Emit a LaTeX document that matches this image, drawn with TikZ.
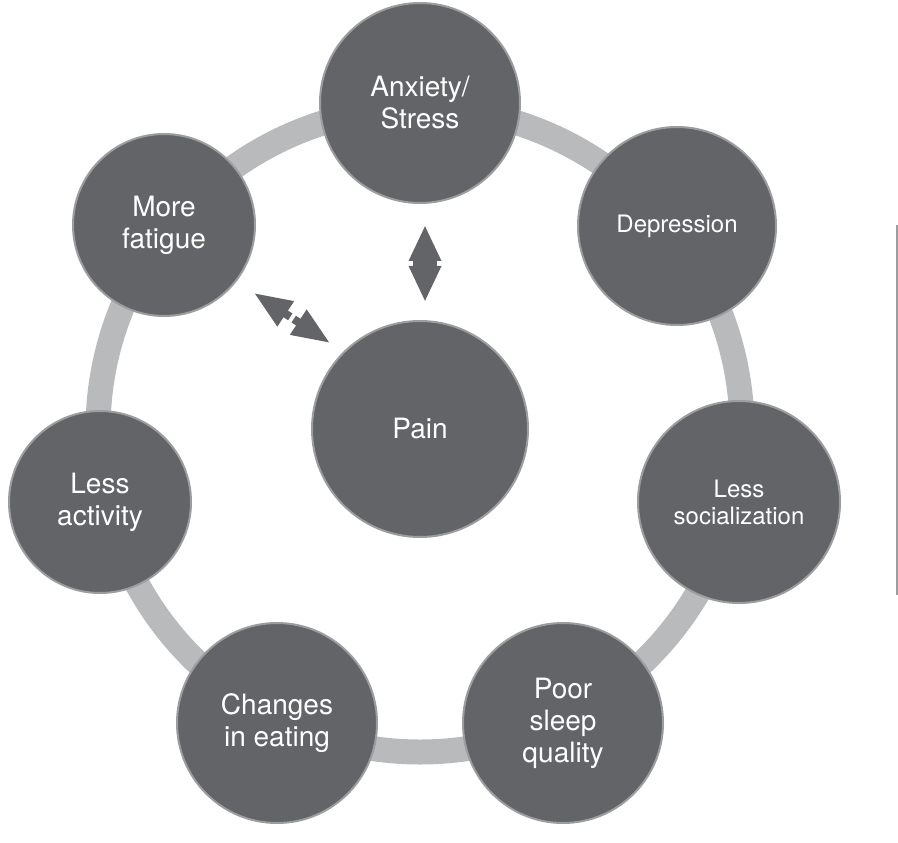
\documentclass[tikz,border=0pt]{standalone}
\usepackage{fontspec}
\setmainfont{TeX Gyre Heros}
\usetikzlibrary{arrows.meta}
\definecolor{bubblegray}{HTML}{636468}
\definecolor{rimgray}{HTML}{9C9D9F}
\definecolor{ringgray}{HTML}{B9BABB}
\tikzset{
  bubble/.style={circle,fill=bubblegray,draw=rimgray,line width=1pt,text=white,
    align=center,inner sep=0pt,minimum size=#1,font=\fontsize{14}{16}\selectfont},
  bubble/.default=100pt,
  smalltext/.style={font=\fontsize{12}{13.5}\selectfont},
  pointer/.style={draw=bubblegray,line width=4pt,-{Triangle[width=15pt,length=18pt]}}
}

\begin{document}
\begin{tikzpicture}[x=0.5pt,y=0.5pt]
  \useasboundingbox (0,0) rectangle (898,842);
  \coordinate (hub) at (420,412);
  \draw[ringgray,line width=12.5pt] (hub) circle[radius=322];
  \node[bubble] (anxiety) at (420,739) {Anxiety/\\Stress};
  \node[bubble=99pt,smalltext] (depression) at (677,616) {Depression};
  \node[bubble=101pt,smalltext] (social) at (739,340) {Less\\socialization};
  \node[bubble] (sleep) at (563,119) {Poor\\sleep\\quality};
  \node[bubble] (eating) at (277,119) {Changes\\in eating};
  \node[bubble=91pt] (activity) at (100,340) {Less\\activity};
  \node[bubble=91pt] (fatigue) at (164,617) {More\\fatigue};
  \node[bubble=108pt] (pain) at (420,413) {Pain};
  \coordinate (uptip) at (425,617);
  \coordinate (downtip) at (425,540);
  \draw[pointer,line width=12pt,{Triangle[width=15pt,length=18pt]}-{Triangle[width=15pt,length=18pt]}] (downtip) -- (uptip);
  \coordinate (dmidA) at (290.3,525.1);
  \coordinate (dmidB) at (293.7,522.9);
  \coordinate (fatiguetip) at (254,549);
  \coordinate (paintip) at (330,499);
  \draw[pointer,-{Triangle[width=14pt,length=19pt]}] (dmidA) -- (fatiguetip);
  \draw[pointer,-{Triangle[width=14pt,length=19pt]}] (dmidB) -- (paintip);
  \draw[rimgray,line width=0.6pt] (897,617) -- (897,247);
\end{tikzpicture}
\end{document}
